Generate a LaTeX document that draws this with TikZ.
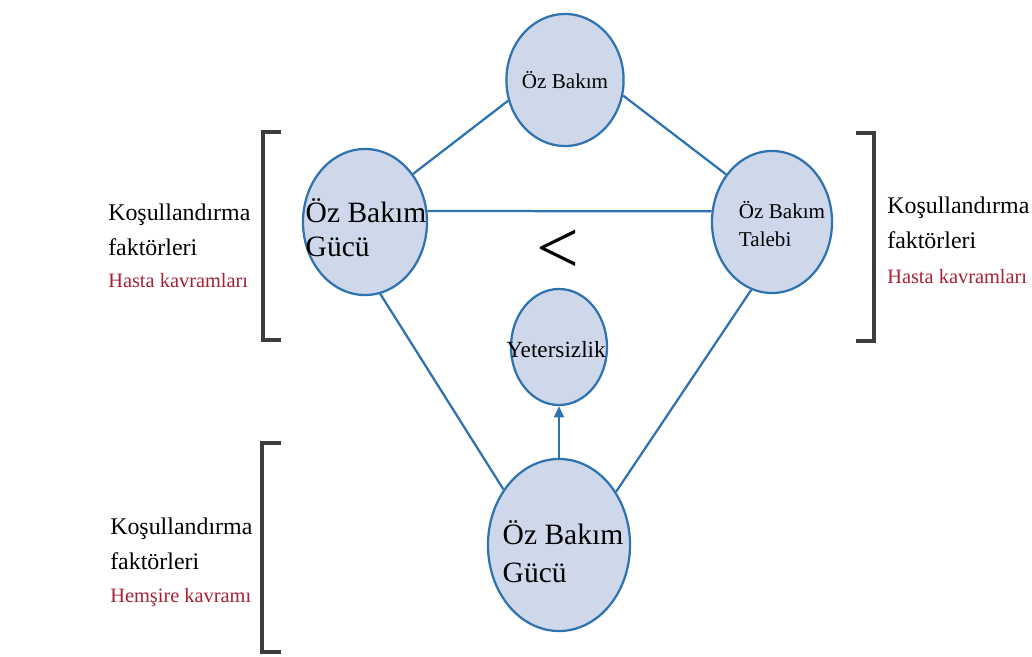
\documentclass[tikz,border=0pt]{standalone}
\usepackage{fontspec}
\setmainfont{Liberation Serif}
\usetikzlibrary{arrows.meta,positioning,shapes.geometric}
\definecolor{ovalfill}{RGB}{207,216,234}
\definecolor{ovaldraw}{RGB}{46,114,176}
\definecolor{kavram}{RGB}{168,32,52}
\definecolor{brkgray}{RGB}{60,60,60}

\begin{document}
\begin{tikzpicture}[
  x=0.025cm, y=-0.025cm,
  oval/.style={ellipse, draw=ovaldraw, fill=ovalfill, line width=1.6pt, inner sep=0pt},
  link/.style={draw=ovaldraw, line width=1.6pt},
  factor/.style={anchor=west, align=left, inner sep=0pt, font=\fontsize{17}{25}\selectfont},
  concept/.style={anchor=west, inner sep=0pt, text=kavram, font=\fontsize{14.5}{17}\selectfont},
  brk/.style={draw=brkgray, line width=2.4pt}
]
\useasboundingbox (0,0) rectangle (1032,657);

% ================= Ovals =================
\node[oval, minimum width=2.93cm, minimum height=3.3cm] (ozb) at (565,80) {};
\node[oval, minimum width=3.1cm, minimum height=3.65cm] (gucl) at (365,222) {};
\node[oval, minimum width=3.0cm, minimum height=3.55cm] (talep) at (772,222) {};
\node[oval, minimum width=2.4cm, minimum height=2.9cm] (yet) at (559,347) {};
\node[oval, minimum width=3.55cm, minimum height=4.3cm] (gucb) at (559,545) {};

\node[font=\fontsize{15}{18}\selectfont] (ozbT) at (ozb) {Öz Bakım};
\node[align=left, font=\fontsize{21}{24}\selectfont] (guclT) at (366,228) {Öz Bakım\\Gücü};
\node[align=left, font=\fontsize{15}{20}\selectfont] (talepT) at (782,224) {Öz Bakım\\Talebi};
\node[font=\fontsize{16.5}{18}\selectfont] (yetT) at (556,350) {Yetersizlik};
\node[align=left, font=\fontsize{21}{27}\selectfont] (gucbT) at (563,552) {Öz Bakım\\Gücü};

% ================= Links =================
\draw[link] (gucl.45) -- (ozb.200);
\draw[link] (ozb.-15) -- (talep.134);
\draw[link] (gucl.10) -- (talep.170);
\draw[link] (gucl.-78) -- (gucb.135);
\draw[link] (talep.-107) -- (gucb.43);
\draw[link, -{Triangle[length=8pt,width=7pt]}] (gucb.north) -- (yet.south);

\node[font=\fontsize{54}{54}\selectfont] (less) at (558,252) {<};

% ================= Brackets and factors =================
\draw[brk] (281,132) -- (263,132) -- (263,340) -- (281,340);
\draw[brk] (856,133) -- (874,133) -- (874,341) -- (856,341);
\draw[brk] (281,443) -- (262,443) -- (262,652) -- (281,652);

\node[factor] (condl) at (108,230) {Koşullandırma\\faktörleri};
\node[concept] (hastal) at (108,281) {Hasta kavramları};
\node[factor] (condr) at (887,223) {Koşullandırma\\faktörleri};
\node[concept] (hastar) at (887,277) {Hasta kavramları};
\node[factor] (condb) at (110,544) {Koşullandırma\\faktörleri};
\node[concept] (hemsire) at (110,598) {Hemşire kavramı};

\end{tikzpicture}
\end{document}
